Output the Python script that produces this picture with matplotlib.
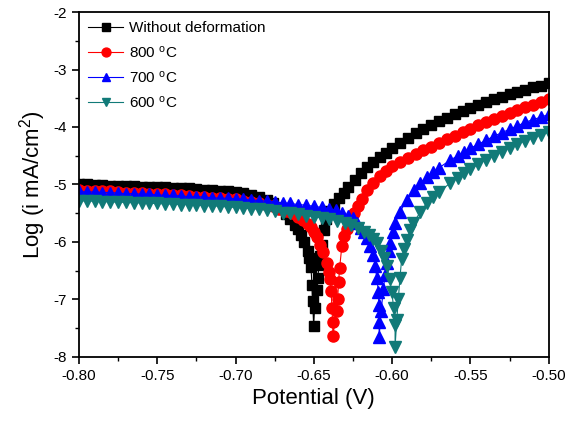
import matplotlib.pyplot as plt

plt.rcParams['font.family'] = ['Liberation Sans', 'DejaVu Sans']
plt.rcParams['mathtext.default'] = 'regular'
plt.rcParams['axes.unicode_minus'] = False

# --- data (potential in V, log i) ---
e_raw = [-0.800, -0.795, -0.790, -0.785, -0.780, -0.775, -0.770, -0.765, -0.760, -0.755,
         -0.750, -0.745, -0.740, -0.735, -0.730, -0.725, -0.720, -0.715, -0.710, -0.705,
         -0.700, -0.695, -0.690, -0.685, -0.680, -0.676, -0.672, -0.668, -0.665, -0.662,
         -0.660, -0.658, -0.656, -0.654, -0.653, -0.6518, -0.6512, -0.6508, -0.6501,
         -0.6495, -0.6480, -0.6476, -0.6465, -0.6459, -0.6450, -0.6438, -0.6420, -0.640,
         -0.637, -0.634, -0.631, -0.628, -0.624, -0.620, -0.616, -0.612, -0.608, -0.604,
         -0.600, -0.595, -0.590, -0.585, -0.580, -0.575, -0.570, -0.565, -0.560, -0.555,
         -0.550, -0.545, -0.540, -0.535, -0.530, -0.525, -0.520, -0.515, -0.510, -0.505,
         -0.500]
i_raw = [-5.00, -5.00, -5.01, -5.01, -5.02, -5.02, -5.03, -5.03, -5.04, -5.04,
         -5.05, -5.05, -5.06, -5.07, -5.07, -5.08, -5.09, -5.10, -5.11, -5.12,
         -5.13, -5.15, -5.18, -5.22, -5.27, -5.33, -5.42, -5.52, -5.60, -5.70,
         -5.78, -5.88, -6.00, -6.15, -6.28, -6.44, -6.75, -7.02, -7.46,
         -7.15, -6.83, -6.63, -6.40, -6.24, -6.05, -5.79, -5.60, -5.47,
         -5.34, -5.24, -5.14, -5.04, -4.92, -4.80, -4.70, -4.61, -4.53, -4.45,
         -4.37, -4.28, -4.19, -4.11, -4.04, -3.97, -3.90, -3.84, -3.78, -3.73,
         -3.67, -3.62, -3.57, -3.52, -3.48, -3.43, -3.39, -3.35, -3.31, -3.28,
         -3.24]

e_800 = [-0.800, -0.795, -0.790, -0.785, -0.780, -0.775, -0.770, -0.765, -0.760, -0.755,
         -0.750, -0.745, -0.740, -0.735, -0.730, -0.725, -0.720, -0.715, -0.710, -0.705,
         -0.700, -0.695, -0.690, -0.685, -0.680, -0.676, -0.672, -0.668, -0.664, -0.660,
         -0.657, -0.654, -0.652, -0.650, -0.648, -0.646, -0.644, -0.6416, -0.6400, -0.6395,
         -0.6390, -0.6384, -0.6380, -0.6378, -0.6355, -0.6348, -0.6342, -0.6335, -0.6321,
         -0.6305, -0.629, -0.627, -0.6246, -0.622, -0.619, -0.6161, -0.612, -0.608, -0.604,
         -0.600, -0.595, -0.590, -0.585, -0.580, -0.575, -0.570, -0.565, -0.560, -0.555,
         -0.550, -0.545, -0.540, -0.535, -0.530, -0.525, -0.520, -0.515, -0.510, -0.505,
         -0.500]
i_800 = [-5.10, -5.11, -5.11, -5.12, -5.12, -5.13, -5.14, -5.14, -5.15, -5.16,
         -5.16, -5.17, -5.18, -5.19, -5.20, -5.21, -5.22, -5.23, -5.24, -5.25,
         -5.26, -5.28, -5.30, -5.32, -5.35, -5.38, -5.42, -5.46, -5.50, -5.56,
         -5.62, -5.68, -5.74, -5.82, -5.92, -6.05, -6.18, -6.36, -6.52, -6.64,
         -6.85, -7.15, -7.40, -7.63, -7.20, -6.99, -6.70, -6.45, -6.07,
         -5.90, -5.78, -5.64, -5.50, -5.38, -5.25, -5.10, -4.97, -4.86, -4.76,
         -4.68, -4.61, -4.54, -4.47, -4.40, -4.34, -4.27, -4.21, -4.15, -4.09,
         -4.03, -3.97, -3.92, -3.86, -3.81, -3.76, -3.71, -3.65, -3.61, -3.56,
         -3.51]

e_700 = [-0.800, -0.795, -0.790, -0.785, -0.780, -0.775, -0.770, -0.765, -0.760, -0.755,
         -0.750, -0.745, -0.740, -0.735, -0.730, -0.725, -0.720, -0.715, -0.710, -0.705,
         -0.700, -0.695, -0.690, -0.685, -0.680, -0.675, -0.670, -0.665, -0.660, -0.655,
         -0.650, -0.645, -0.640, -0.636, -0.632, -0.628, -0.625, -0.6225, -0.620, -0.618,
         -0.616, -0.614, -0.612, -0.6108, -0.6098, -0.6087, -0.6085, -0.6083, -0.6083,
         -0.6070, -0.6056, -0.6045, -0.6034, -0.6020, -0.6013, -0.5995, -0.5981, -0.595,
         -0.5907, -0.586, -0.582, -0.578, -0.574, -0.570, -0.5631, -0.558, -0.554, -0.550,
         -0.545, -0.540, -0.535, -0.530, -0.525, -0.520, -0.515, -0.510, -0.505, -0.500]
i_700 = [-5.12, -5.13, -5.13, -5.14, -5.14, -5.15, -5.16, -5.16, -5.17, -5.17,
         -5.18, -5.19, -5.19, -5.20, -5.21, -5.21, -5.22, -5.23, -5.24, -5.24,
         -5.25, -5.26, -5.27, -5.28, -5.29, -5.30, -5.32, -5.33, -5.35, -5.36,
         -5.38, -5.40, -5.42, -5.45, -5.49, -5.54, -5.59, -5.67, -5.75, -5.83,
         -5.94, -6.07, -6.22, -6.42, -6.62, -6.87, -7.10, -7.40, -7.66,
         -7.20, -6.82, -6.58, -6.36, -6.15, -6.02, -5.82, -5.67, -5.48,
         -5.27, -5.10, -4.98, -4.87, -4.79, -4.71, -4.58, -4.50, -4.43, -4.37,
         -4.30, -4.23, -4.16, -4.10, -4.04, -3.98, -3.92, -3.87, -3.83, -3.78]

e_600 = [-0.800, -0.795, -0.790, -0.785, -0.780, -0.775, -0.770, -0.765, -0.760, -0.755,
         -0.750, -0.745, -0.740, -0.735, -0.730, -0.725, -0.720, -0.715, -0.710, -0.705,
         -0.700, -0.695, -0.690, -0.685, -0.680, -0.675, -0.670, -0.665, -0.660, -0.655,
         -0.650, -0.645, -0.640, -0.635, -0.630, -0.626, -0.622, -0.618, -0.615, -0.612,
         -0.6098, -0.607, -0.605, -0.6034, -0.6015, -0.6002, -0.599, -0.5981, -0.5981,
         -0.5970, -0.596, -0.595, -0.5939, -0.5925, -0.5907, -0.5885, -0.5864, -0.582,
         -0.578, -0.574, -0.570, -0.5631, -0.558, -0.554, -0.550, -0.545, -0.540, -0.535,
         -0.530, -0.525, -0.520, -0.515, -0.510, -0.505, -0.500]
i_600 = [-5.28, -5.29, -5.29, -5.30, -5.30, -5.31, -5.31, -5.32, -5.32, -5.33,
         -5.33, -5.34, -5.34, -5.35, -5.35, -5.36, -5.37, -5.37, -5.38, -5.39,
         -5.40, -5.41, -5.42, -5.43, -5.45, -5.47, -5.49, -5.50, -5.52, -5.54,
         -5.56, -5.58, -5.60, -5.63, -5.67, -5.71, -5.76, -5.82, -5.88, -5.95,
         -6.02, -6.15, -6.28, -6.42, -6.65, -6.87, -7.15, -7.45, -7.82,
         -7.35, -6.99, -6.62, -6.30, -6.12, -5.96, -5.80, -5.67, -5.48,
         -5.33, -5.22, -5.13, -4.98, -4.88, -4.80, -4.73, -4.65, -4.57, -4.50,
         -4.43, -4.36, -4.30, -4.24, -4.19, -4.14, -4.09]

fig, ax = plt.subplots(figsize=(5.68, 4.30), dpi=100)
fig.subplots_adjust(left=0.139, right=0.966, top=0.972, bottom=0.17)

ax.plot(e_raw, i_raw, color='black', marker='s', ms=7, lw=0.8, label='Without deformation')
ax.plot(e_800, i_800, color='red', marker='o', ms=8, lw=0.8, label='800 $^{o}$C')
ax.plot(e_700, i_700, color='blue', marker='^', ms=8, lw=0.8, label='700 $^{o}$C')
ax.plot(e_600, i_600, color='#117a78', marker='v', ms=8, lw=0.8, label='600 $^{o}$C')

ax.set_xlim(-0.80, -0.50)
ax.set_ylim(-8, -2)
ax.set_xticks([-0.80, -0.75, -0.70, -0.65, -0.60, -0.55, -0.50])
ax.set_xticks([-0.775, -0.725, -0.675, -0.625, -0.575, -0.525], minor=True)
ax.set_yticks([-8, -7, -6, -5, -4, -3, -2])
ax.set_yticks([-7.5, -6.5, -5.5, -4.5, -3.5, -2.5], minor=True)
ax.xaxis.set_major_formatter(plt.FormatStrFormatter('%.2f'))
ax.tick_params(which='major', direction='out', length=5, width=1.2, labelsize=11)
ax.tick_params(which='minor', direction='out', length=3, width=1.0)
for sp in ax.spines.values():
    sp.set_linewidth(1.3)

ax.set_xlabel('Potential (V)', fontsize=16)
ax.set_ylabel('Log (i mA/cm$^2$)', fontsize=16)

ax.legend(loc='upper left', frameon=False, fontsize=11, handlelength=2.3, markerscale=0.8,
          borderaxespad=0.2, labelspacing=0.6, handletextpad=0.4)

fig.savefig('out.png', dpi=100)
